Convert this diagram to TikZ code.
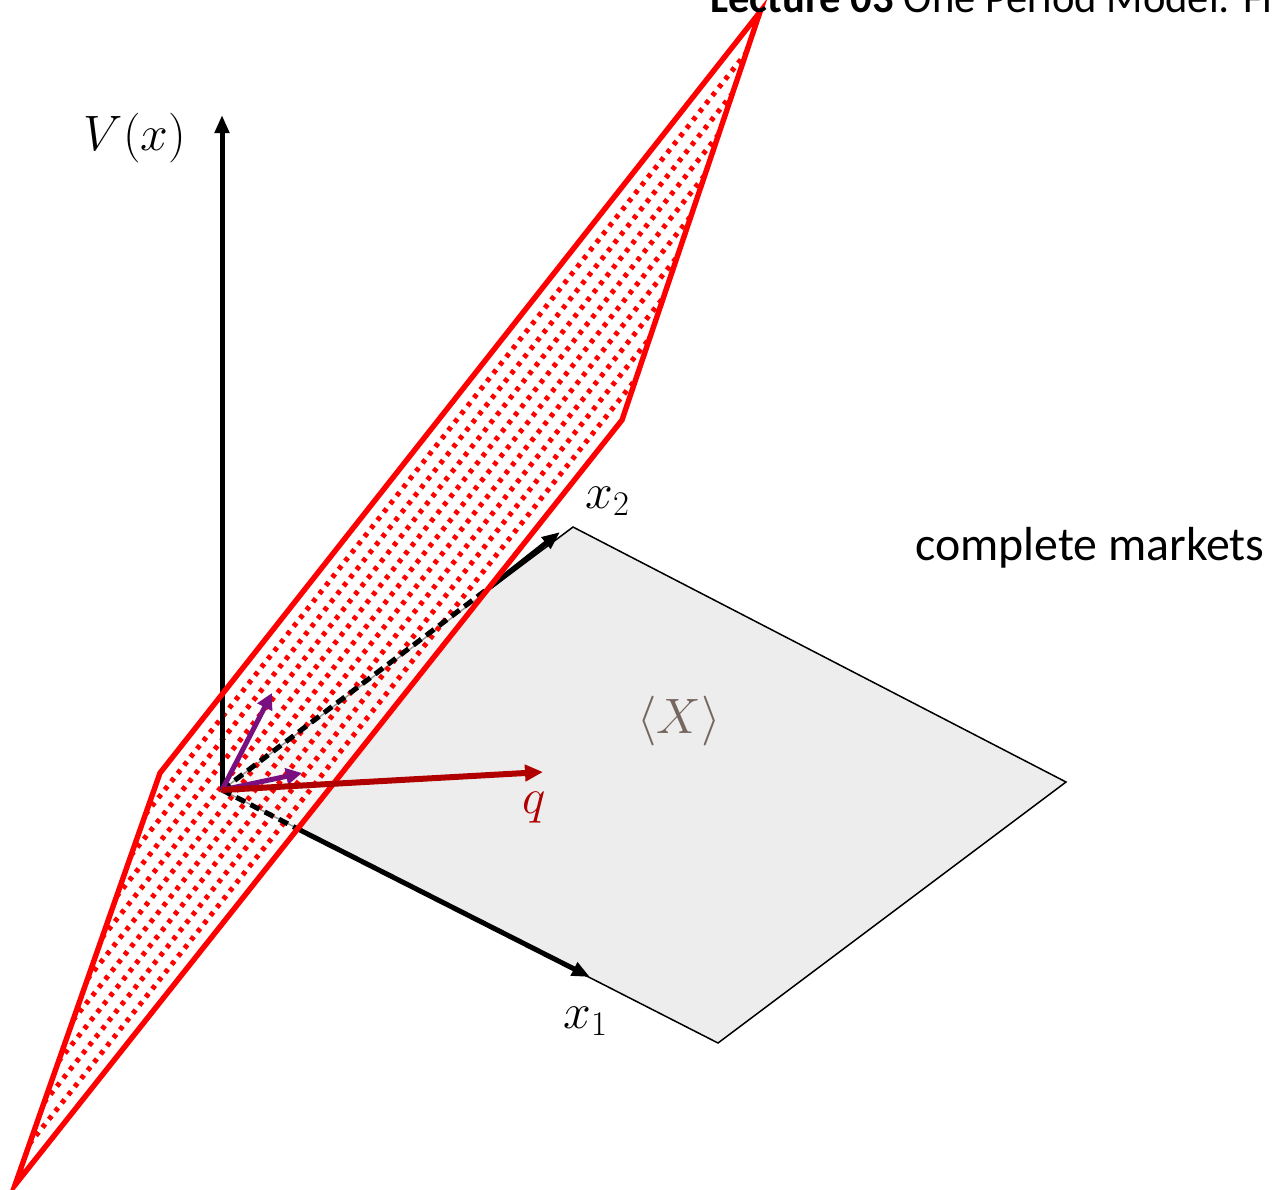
\documentclass[tikz,border=0pt]{standalone}
\usepackage[no-math]{fontspec}
\setmainfont{Carlito}
\usetikzlibrary{arrows.meta,calc}
\definecolor{planegray}{RGB}{237,237,237}
\definecolor{planered}{RGB}{255,0,0}
\definecolor{qred}{RGB}{176,0,0}
\definecolor{basepurple}{RGB}{122,16,128}
\definecolor{spangray}{RGB}{117,103,95}
\tikzset{
  axis/.style={line width=2.5pt, -{Triangle[length=9pt,width=7pt]}},
  hidden/.style={line width=2.5pt, dash pattern=on 5pt off 3pt},
  hatch/.style={planered, line width=2.5pt, dash pattern=on 2.2pt off 3pt},
  basis/.style={basepurple, line width=2.5pt, -{Triangle[length=8pt,width=8pt]}},
  mathlabel/.style={font=\fontsize{23.5}{28}\selectfont},
}
\begin{document}
\begin{tikzpicture}[x=0.5pt,y=-0.5pt]
\useasboundingbox (0,0) rectangle (1277,1189);
% axes and corners
\coordinate (O) at (222,790);
\coordinate (vtip) at (222,115);
\coordinate (xonetip) at (590,977);
\coordinate (xtwotip) at (560,532);
\coordinate (xonecut) at (298,829);
\coordinate (xtwocut) at (494,584);
\coordinate (xonecorner) at (718,1043);
\coordinate (xtwocorner) at (573,527);
\coordinate (farcorner) at (1066,782);
% the red plane
\coordinate (A) at (160,773);
\coordinate (B) at (760,12);
\coordinate (C) at (622,420);
\coordinate (D) at (15,1185);
% the span <X>
\draw[fill=planegray, line width=0.75pt] (O) -- (xtwocorner) -- (farcorner) -- (xonecorner) -- cycle;
\draw[axis] (xonecut) -- (xonetip);
\draw[axis] (xtwocut) -- (xtwotip);
\fill[white, fill opacity=0.6] (A) -- (B) -- (C) -- (D) -- cycle;
\foreach \t in {0.1,0.2,...,0.95}
  \draw[hatch] ($(A)!\t!(D)$) -- ($(B)!\t!(C)$);
\draw[hidden] (O) -- (xonecut);
\draw[hidden] (O) -- (xtwocut);
\draw[axis] (O) -- (vtip);
\draw[planered, line width=2.7pt, line join=miter] (A) -- (B) -- (C) -- (D) -- cycle;
% price vector and basis
\draw[basis] (O) -- (272,693);
\draw[basis] (O) -- (302,773);
\draw[qred, line width=3pt, -{Triangle[length=9pt,width=8pt]}] (O) -- (543,772);
% labels
\node[mathlabel, anchor=base] (vlabel) at (135,150) {$V(x)$};
\node[mathlabel, anchor=base west, inner sep=0pt] (xtwolabel) at (585,508) {$x_2$};
\node[mathlabel, anchor=base west, inner sep=0pt] (xonelabel) at (563,1028) {$x_1$};
\node[mathlabel, anchor=base west, inner sep=0pt, text=qred] (qlabel) at (522,813) {$q$};
\node[mathlabel, anchor=base, inner sep=0pt, text=spangray] (spanlabel) at (679,733) {$\langle X\rangle$};
\node[font=\fontsize{23.9}{28}\selectfont, anchor=base west, inner sep=0pt] (marketlabel) at (915,560) {complete markets};
\node[font=\fontsize{21.3}{25}\selectfont, anchor=base west, inner sep=0pt] (title) at (710,12) {\textbf{Lecture 03} One Period Model: Fi};
\end{tikzpicture}
\end{document}
